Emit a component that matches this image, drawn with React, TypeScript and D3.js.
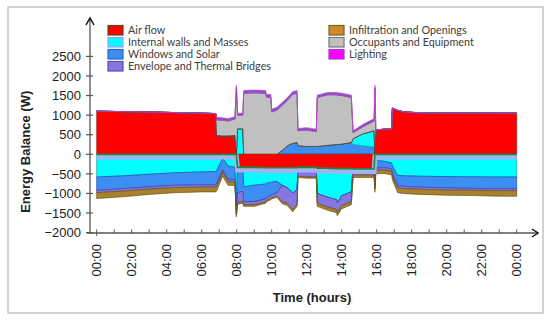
import React from 'react';
import * as d3 from 'd3';

// time of day (hours) and the energy terms (W)
const hours = [0, 1.5, 3, 4.5, 6, 6.8, 6.85, 7.2, 7.5, 7.9, 7.98, 8.05, 8.35, 8.4, 9.0, 9.65, 9.7, 9.95, 10.0, 10.3, 10.6, 10.9, 11.2, 11.45, 11.5, 12.0, 12.55, 12.6, 13.2, 13.7, 13.75, 14.0, 14.55, 14.65, 15.2, 15.85, 15.9, 15.95, 16.4, 16.85, 16.9, 17.2, 17.6, 18.5, 20, 21.5, 23, 24];

const airFlow = [1100, 1090, 1080, 1065, 1050, 1040, 480, 470, 470, 480, 0, -330, -330, -330, -330, -340, -340, -340, -340, -340, -340, -340, -340, -340, -330, -330, -330, -350, -350, -360, -360, -360, -360, -370, -370, -370, 0, 620, 640, 650, 1180, 1120, 1080, 1060, 1050, 1055, 1050, 1050];
const internalWalls = [-580, -550, -510, -470, -450, -440, -420, -100, -300, -330, -1300, 650, 650, -500, -460, -420, -400, -380, -370, -350, -450, -520, -650, -560, -80, -90, -90, -650, -750, -800, -880, -700, -600, 150, 300, 420, -600, -150, -180, -220, -300, -540, -550, -560, -570, -575, -580, -580];
const windowsSolar = [-340, -330, -320, -320, -330, -340, -340, -300, -330, -330, -200, -650, -620, -380, -420, -380, -360, -330, -320, -300, 100, 220, 280, 300, 220, 200, 200, 200, 230, 250, 250, 260, 300, 250, 220, 180, -200, -200, -160, -150, -200, -260, -270, -280, -290, -295, -300, -300];
const envelope = [-60, -60, -60, -60, -60, -60, -60, -60, -60, -60, -50, -250, -250, -80, -80, -80, -80, -80, -80, -80, -420, -400, -420, -380, -150, -160, -160, -250, -250, -250, -250, -250, -250, -160, -160, -160, -80, -60, -60, -60, -60, -60, -60, -55, -55, -50, -50, -50];
const infiltration = [-150, -145, -135, -130, -120, -120, -120, -100, -100, -80, -50, -50, -50, -40, -40, -30, -30, -30, -30, -30, -50, -50, -60, -50, -30, -30, -30, -80, -80, -80, -80, -80, -80, -60, -60, -60, -90, -90, -90, -90, -100, -120, -125, -130, -130, -135, -140, -140];
const occupants = [0, 0, 0, 0, 0, 0, 400, 400, 380, 420, 1700, 350, 350, 1560, 1570, 1560, 1460, 1460, 1080, 1130, 1150, 1160, 1250, 1260, 380, 420, 380, 1250, 1290, 1270, 1260, 1240, 1150, 150, 180, 250, 1700, 0, 0, 0, 0, 0, 0, 0, 0, 0, 0, 0];
const lighting = [0, 0, 0, 0, 0, 0, 60, 60, 60, 60, 60, 50, 50, 70, 70, 70, 70, 70, 70, 70, 70, 70, 70, 70, 60, 60, 60, 60, 60, 60, 60, 60, 60, 50, 60, 60, 60, 0, 0, 0, 0, 0, 0, 0, 0, 0, 0, 0];

const yTicks = [-2000, -1500, -1000, -500, 0, 500, 1000, 1500, 2000, 2500];
const xLabels = [0, 2, 4, 6, 8, 10, 12, 14, 16, 18, 20, 22, 24];

const series = [
  { key: 'airFlow', name: 'Air flow', fill: '#ff0000', stroke: '#8b2a10', sw: '#5c4a12' },
  { key: 'internalWalls', name: 'Internal walls and Masses', fill: '#00ffff', stroke: '#1aa0b0', sw: '#9a9cf5' },
  { key: 'windowsSolar', name: 'Windows and Solar', fill: '#3d8ef2', stroke: '#1d4fa6', sw: '#2a62d8' },
  { key: 'envelope', name: 'Envelope and Thermal Bridges', fill: '#8676e0', stroke: '#4f3fa0', sw: '#5a4cb0' },
  { key: 'infiltration', name: 'Infiltration and Openings', fill: '#a6822e', stroke: '#6e5514', sw: '#7a6220' },
  { key: 'occupants', name: 'Occupants and Equipment', fill: '#c0c0c0', stroke: '#3a3a3a', sw: '#777777' },
  { key: 'lighting', name: 'Lighting', fill: '#8450cc', stroke: '#c040d0', sw: '#9a3ccc' },
];
const legendFill: Record<string, string> = { lighting: '#ff00ff', infiltration: '#cc8a2e' };

const rows = hours.map((h, i) => ({
  h,
  airFlow: airFlow[i],
  internalWalls: internalWalls[i],
  windowsSolar: windowsSolar[i],
  envelope: envelope[i],
  infiltration: infiltration[i],
  occupants: occupants[i],
  lighting: lighting[i],
}));

const posKeys = ['airFlow', 'windowsSolar', 'internalWalls', 'infiltration', 'occupants', 'lighting'];
const negKeys = ['airFlow', 'internalWalls', 'windowsSolar', 'envelope', 'infiltration'];

const W = 550;
const H = 324;

export default function App() {
  const x = d3.scaleLinear().domain([0, 24]).range([96.7, 516.7]);
  const y = d3.scaleLinear().domain([-2000, 2500]).range([232.6, 56.4]);

  const posStack = d3.stack<any>().keys(posKeys).value((d, k) => Math.max(0, d[k]))(rows);
  const negStack = d3.stack<any>().keys(negKeys).value((d, k) => Math.min(0, d[k]))(rows);

  const area = d3.area<any>()
    .x(d => x(d.data.h))
    .y0(d => y(d[0]))
    .y1(d => y(d[1]));
  const edge = d3.line<any>().x(d => x(d.data.h)).y(d => y(d[0]));

  const style = (k: string) => series.find(s => s.key === k)!;
  const internalNeg = negStack.find(s => s.key === 'internalWalls')!;

  const axisColor = '#555';
  const font = 'Arial, "Liberation Sans", sans-serif';

  return (
    <svg width={W} height={H} style={{ position: 'absolute', left: 0, top: 0, background: '#fff' }}>
      <rect x={8} y={7} width={535} height={306} fill="none" stroke="#c4c4c4" strokeWidth={1.5} />

      {/* stacked areas */}
      <g>
        {posStack.map(layer => (
          <path key={'p' + layer.key} d={area(layer) || ''} fill={style(layer.key).fill}
            stroke={style(layer.key).stroke} strokeWidth={0.7} strokeLinejoin="round" />
        ))}
        {negStack.map(layer => (
          <path key={'n' + layer.key} d={area(layer) || ''} fill={style(layer.key).fill}
            stroke={style(layer.key).stroke} strokeWidth={0.7} strokeLinejoin="round" />
        ))}
        {/* band on the zero side of the internal walls term */}
        <path d={edge(internalNeg) || ''} fill="none" stroke="#a2b2f2" strokeWidth={5} transform="translate(0,2.8)" />
        <path d={edge(internalNeg) || ''} fill="none" stroke="#1e8a30" strokeWidth={1.6} transform="translate(0,0.2)" />
      </g>

      {/* y axis */}
      <g fontFamily={font} fontSize={13} fill="#222">
        <line x1={90} x2={90} y1={233} y2={19} stroke={axisColor} strokeWidth={1.3} />
        <polyline points="86,25 90,18 94,25" fill="none" stroke="#111" strokeWidth={1.5} />
        {yTicks.map(t => (
          <g key={t}>
            <line x1={86} x2={93} y1={y(t)} y2={y(t)} stroke={axisColor} strokeWidth={1.2} />
            <text x={81} y={y(t)} dy="0.36em" textAnchor="end">{t < 0 ? '\u2212' + Math.abs(t) : t}</text>
          </g>
        ))}
        <text transform={`translate(30,${(y(-2000) + 17) / 2 + 27}) rotate(-90)`} textAnchor="middle"
          fontWeight="bold" fontSize={13}>Energy Balance (W)</text>
      </g>

      {/* x axis */}
      <g fontFamily={font} fontSize={13} fill="#222">
        <line x1={87} x2={537} y1={233} y2={233} stroke={axisColor} strokeWidth={1.3} />
        <polyline points="532,229 538,233 532,237" fill="none" stroke="#111" strokeWidth={1.5} />
        {d3.range(0, 25).map(h => (
          <line key={h} x1={x(h)} x2={x(h)} y1={229.5} y2={h === 0 ? 236 : 233} stroke={axisColor} strokeWidth={1} />
        ))}
        {xLabels.map(h => (
          <text key={h} transform={`translate(${x(h)},244) rotate(-90)`} textAnchor="end" dy="0.36em">
            {String(h % 24).padStart(2, '0') + ':00'}
          </text>
        ))}
        <text x={312} y={302} textAnchor="middle" fontWeight="bold">Time (hours)</text>
      </g>

      {/* legend */}
      <g fontFamily='Lato, "Open Sans", sans-serif' fontSize={10.8} fill="#404040">
        {series.map((s, i) => {
          const col = i < 4 ? 0 : 1;
          const row = i < 4 ? i : i - 4;
          const lx = col === 0 ? 108 : 329;
          const ly = 25.5 + row * 12;
          return (
            <g key={s.key}>
              <rect x={lx} y={ly} width={15} height={9.5} fill={legendFill[s.key] || s.fill} stroke={s.sw} strokeWidth={1.2} />
              <text x={lx + 20} y={ly + 8.6}>{s.name}</text>
            </g>
          );
        })}
      </g>
    </svg>
  );
}
